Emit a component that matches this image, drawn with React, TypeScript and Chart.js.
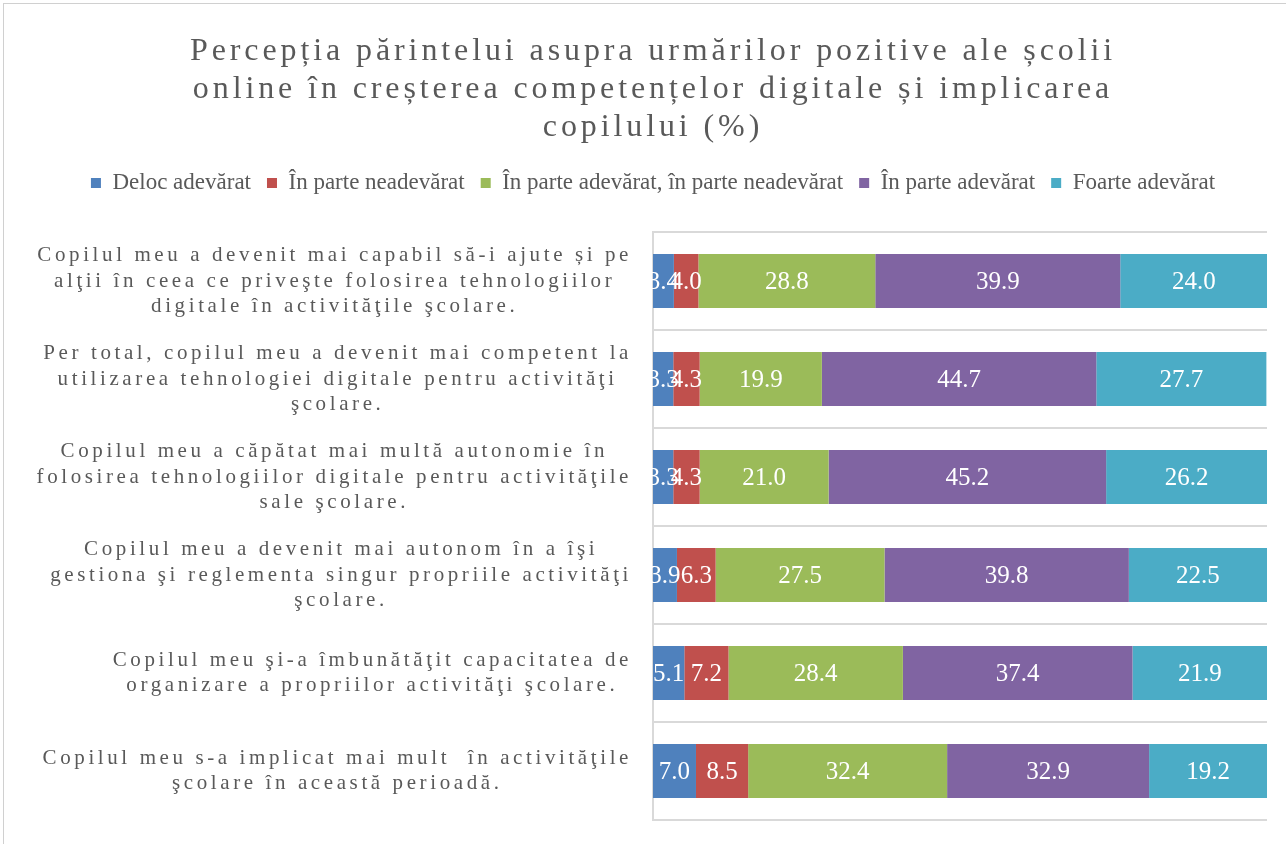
import React, { useEffect, useRef } from "react";
import { Chart, registerables } from "chart.js";

Chart.register(...registerables);

// ---------- data ----------
const titleLines = [
  "Percepția părintelui asupra urmărilor pozitive ale școlii",
  "online în creșterea competențelor digitale și implicarea",
  "copilului (%)",
];

const categoryLines: string[][] = [
  [
    "Copilul meu a devenit mai capabil să-i ajute și pe",
    "alţii în ceea ce priveşte folosirea tehnologiilor",
    "digitale în activităţile şcolare.",
  ],
  [
    "Per total, copilul meu a devenit mai competent la",
    "utilizarea tehnologiei digitale pentru activităţi",
    "şcolare.",
  ],
  [
    "Copilul meu a căpătat mai multă autonomie în",
    "folosirea tehnologiilor digitale pentru activităţile",
    "sale şcolare.",
  ],
  [
    "Copilul meu a devenit mai autonom în a îşi",
    "gestiona şi reglementa singur propriile activităţi",
    "şcolare.",
  ],
  [
    "Copilul meu şi-a îmbunătăţit capacitatea de",
    "organizare a propriilor activităţi şcolare.",
  ],
  [
    "Copilul meu s-a implicat mai mult  în activităţile",
    "şcolare în această perioadă.",
  ],
];

const seriesNames = [
  "Deloc adevărat",
  "În parte neadevărat",
  "În parte adevărat, în parte neadevărat",
  "În parte adevărat",
  "Foarte adevărat",
];

const delocAdevarat = [3.4, 3.3, 3.3, 3.9, 5.1, 7.0];
const inParteNeadevarat = [4.0, 4.3, 4.3, 6.3, 7.2, 8.5];
const inParteAmbele = [28.8, 19.9, 21.0, 27.5, 28.4, 32.4];
const inParteAdevarat = [39.9, 44.7, 45.2, 39.8, 37.4, 32.9];
const foarteAdevarat = [24.0, 27.7, 26.2, 22.5, 21.9, 19.2];

const seriesValues = [
  delocAdevarat,
  inParteNeadevarat,
  inParteAmbele,
  inParteAdevarat,
  foarteAdevarat,
];

const seriesColors = ["#4F81BD", "#C0504D", "#9BBB59", "#8064A2", "#4BACC6"];

// ---------- styling ----------
const FONT = "'Liberation Serif', 'Times New Roman', serif";
const TEXT_COLOR = "#595959";
const GRID_COLOR = "#d9d9d9";
const CANVAS_W = 1298;
const CANVAS_H = 860;

const spacingPatchPlugin = {
  id: "spacingPatch",
  beforeInit(chart: any) {
    const legend = chart.legend;
    if (legend) {
      const origFit = legend.fit;
      legend.fit = function () {
        origFit.call(legend);
        this.height += 27.5;
      };
    }
    const tb = chart.titleBlock;
    if (tb) {
      const origDraw = tb.draw;
      tb.draw = function (...args: any[]) {
        const ctx = chart.ctx;
        ctx.save();
        (ctx as any).letterSpacing = "3.9px";
        origDraw.apply(tb, args);
        ctx.restore();
      };
    }
  },
};

const categoryLabelPlugin = {
  id: "categoryLabels",
  afterDraw(chart: any) {
    const ctx = chart.ctx as CanvasRenderingContext2D;
    const scale = chart.scales.y;
    const rightEdge = chart.chartArea.left - 21;
    const lineH = 25.5;
    ctx.save();
    ctx.font = `21px ${FONT}`;
    (ctx as any).letterSpacing = "3.6px";
    ctx.fillStyle = TEXT_COLOR;
    ctx.textAlign = "center";
    ctx.textBaseline = "middle";
    categoryLines.forEach((lines, i) => {
      const yc = scale.getPixelForValue(i);
      const widths = lines.map((l) => ctx.measureText(l).width);
      const blockW = Math.max(...widths);
      const cx = rightEdge - blockW / 2;
      lines.forEach((l, j) => {
        ctx.fillText(l, cx, yc + (j - (lines.length - 1) / 2) * lineH);
      });
    });
    ctx.restore();
  },
};

const valueLabelPlugin = {
  id: "valueLabels",
  afterDatasetsDraw(chart: any) {
    const ctx = chart.ctx as CanvasRenderingContext2D;
    ctx.save();
    ctx.font = `25px ${FONT}`;
    ctx.fillStyle = "#ffffff";
    ctx.textAlign = "center";
    ctx.textBaseline = "middle";
    chart.data.datasets.forEach((ds: any, di: number) => {
      const meta = chart.getDatasetMeta(di);
      meta.data.forEach((el: any, i: number) => {
        const v = ds.data[i] as number;
        const { x, y, base } = el.getProps(["x", "y", "base"], true);
        ctx.fillText(v.toFixed(1), (x + base) / 2, y + 1);
      });
    });
    ctx.restore();
  },
};

export default function App() {
  const canvasRef = useRef<HTMLCanvasElement | null>(null);

  useEffect(() => {
    if (!canvasRef.current) return;
    const chart = new Chart(canvasRef.current, {
      type: "bar",
      data: {
        labels: categoryLines.map((l) => l.join(" ")),
        datasets: seriesNames.map((name, i) => ({
          label: name,
          data: seriesValues[i],
          backgroundColor: seriesColors[i],
          borderWidth: 0,
          barPercentage: 0.55,
          categoryPercentage: 1,
        })),
      },
      options: {
        indexAxis: "y",
        responsive: false,
        animation: false,
        layout: { padding: { left: 0, right: 0, top: 0, bottom: 44 } },
        scales: {
          x: {
            stacked: true,
            min: 0,
            max: 100,
            display: false,
          },
          y: {
            stacked: true,
            position: "left",
            grid: {
              color: GRID_COLOR,
              lineWidth: 2,
              drawTicks: false,
              offset: true,
            },
            border: { display: true, color: GRID_COLOR, width: 2 },
            ticks: { display: false },
            afterFit: (s: any) => {
              s.width = 649;
            },
          },
          y2: {
            type: "category",
            axis: "y",
            position: "right",
            grid: { display: false, drawTicks: false },
            border: { display: false },
            ticks: { display: false },
            afterFit: (s: any) => {
              s.width = 35;
            },
          } as any,
        },
        plugins: {
          title: {
            display: true,
            text: titleLines,
            color: TEXT_COLOR,
            font: { family: FONT, size: 32, weight: "normal", lineHeight: 1.1875 },
            padding: { top: 29, bottom: 8.5 },
          },
          legend: {
            display: true,
            position: "top",
            labels: {
              color: TEXT_COLOR,
              font: { family: FONT, size: 23 },
              boxWidth: 10,
              boxHeight: 10,
              padding: 16,
            },
          },
          tooltip: { enabled: false },
        },
      },
      plugins: [spacingPatchPlugin, valueLabelPlugin, categoryLabelPlugin],
    });
    return () => chart.destroy();
  }, []);

  return (
    <div
      style={{
        position: "fixed",
        left: 0,
        top: 0,
        width: 1286,
        height: 844,
        overflow: "hidden",
        background: "#ffffff",
      }}
    >
      <div
        style={{
          position: "absolute",
          left: 3,
          top: 3,
          width: CANVAS_W,
          height: CANVAS_H,
          border: "1px solid #d0d0d0",
          background: "#ffffff",
        }}
      >
        <canvas
          ref={canvasRef}
          width={CANVAS_W}
          height={CANVAS_H}
          style={{ display: "block", width: CANVAS_W, height: CANVAS_H }}
        />
      </div>
    </div>
  );
}
